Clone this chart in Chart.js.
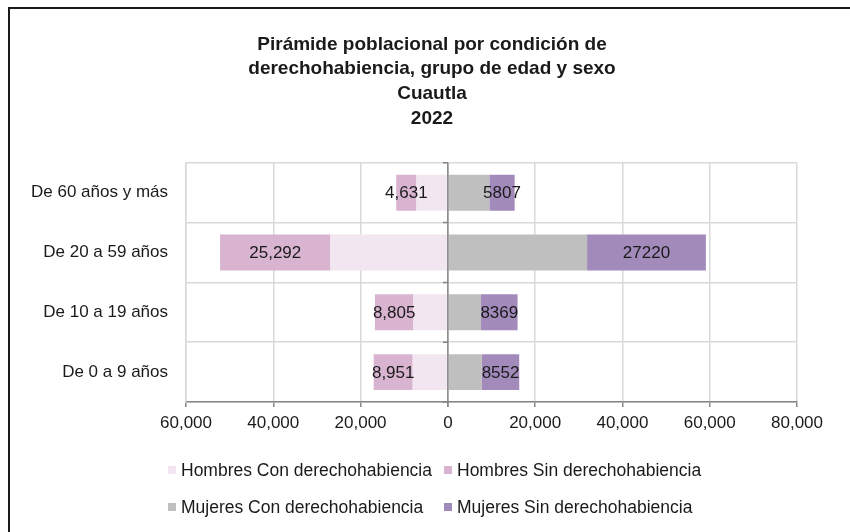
<!DOCTYPE html>
<html>
<head>
<meta charset="utf-8">
<script src="https://cdn.jsdelivr.net/npm/chart.js@4"></script>
<style>
  html, body { margin: 0; padding: 0; background: #fff; }
  body { width: 850px; height: 532px; position: relative; overflow: hidden; }
  #marco { position: absolute; left: 8px; top: 7px; width: 900px; height: 600px; border: 2px solid #1a1a1a; box-sizing: border-box; }
  #grafico { position: absolute; left: 0; top: 0; }
</style>
</head>
<body>
<div id="marco"></div>
<canvas id="grafico" width="850" height="532"></canvas>
<script>
// Datos
const categorias = ['De 60 años y más', 'De 20 a 59 años', 'De 10 a 19 años', 'De 0 a 9 años'];
const hombresCon = [7200, 26900, 7900, 8050];
const hombresSin = [4631, 25292, 8805, 8951];
const mujeresCon = [9500, 31900, 7600, 7800];
const mujeresSin = [5807, 27220, 8369, 8552];
const tituloLineas = ['Pirámide poblacional por condición de', 'derechohabiencia, grupo de edad y sexo', 'Cuautla', '2022'];
const ejeMin = -60000;
const ejeMax = 80000;
const ejePaso = 20000;

const FUENTE = "'Liberation Sans', Arial, sans-serif";
const GRIS_REJILLA = '#d9d9d9';
const GRIS_EJE = '#868686';

// El título se centra sobre todo el recuadro, no sólo sobre el área del gráfico
const tituloPlugin = {
    id: 'centrarTitulo',
    afterLayout(chart) {
        const t = chart.titleBlock;
        if (t) { t.left = 67; t.right = 797; }
    }
};

// Línea del cero y etiquetas de valor sobre los segmentos "Sin derechohabiencia"
const etiquetasPlugin = {
    id: 'etiquetas',
    afterDatasetsDraw(chart) {
        const ctx = chart.ctx;
        const xs = chart.scales.x;
        const x0 = xs.getPixelForValue(0);
        const area = chart.chartArea;

        ctx.save();
        ctx.strokeStyle = GRIS_EJE;
        ctx.lineWidth = 1.5;
        ctx.beginPath();
        ctx.moveTo(x0, area.top);
        ctx.lineTo(x0, area.bottom + 5);
        const n = categorias.length;
        for (let i = 0; i <= n; i++) {
            const y = area.top + i * (area.bottom - area.top) / n;
            ctx.moveTo(x0 - 5, y);
            ctx.lineTo(x0, y);
        }
        ctx.stroke();

        ctx.font = '17px ' + FUENTE;
        ctx.fillStyle = '#1a1a1a';
        ctx.textAlign = 'center';
        ctx.textBaseline = 'middle';
        [1, 3].forEach(di => {
            const meta = chart.getDatasetMeta(di);
            meta.data.forEach((bar, i) => {
                const valor = di === 1 ? hombresSin[i].toLocaleString('en-US') : String(mujeresSin[i]);
                ctx.fillText(valor, (bar.x + bar.base) / 2, bar.y + 1);
            });
        });
        ctx.restore();
    }
};

// Leyenda en dos filas
const leyendaPlugin = {
    id: 'leyendaDosFilas',
    afterDraw(chart) {
        const ctx = chart.ctx;
        const columnas = [168, 444];
        const filas = [470, 507];
        ctx.save();
        ctx.font = '17.5px ' + FUENTE;
        ctx.textBaseline = 'middle';
        ctx.textAlign = 'left';
        chart.data.datasets.forEach((ds, i) => {
            const x = columnas[i % 2];
            const y = filas[Math.floor(i / 2)];
            ctx.fillStyle = ds.backgroundColor;
            ctx.fillRect(x, y - 4, 8, 8);
            ctx.fillStyle = '#1a1a1a';
            ctx.fillText(ds.label, x + 13, y + 1);
        });
        ctx.restore();
    }
};

const ctx = document.getElementById('grafico').getContext('2d');
new Chart(ctx, {
    type: 'bar',
    data: {
        labels: categorias,
        datasets: [
            { label: 'Hombres Con derechohabiencia', data: hombresCon.map(v => -v), backgroundColor: '#f2e6f0' },
            { label: 'Hombres Sin derechohabiencia', data: hombresSin.map(v => -v), backgroundColor: '#d8b4d0' },
            { label: 'Mujeres Con derechohabiencia', data: mujeresCon, backgroundColor: '#bfbfbf' },
            { label: 'Mujeres Sin derechohabiencia', data: mujeresSin, backgroundColor: '#a28abb' }
        ]
    },
    options: {
        indexAxis: 'y',
        responsive: false,
        animation: false,
        layout: { padding: { top: 20, left: 0, right: 53, bottom: 100 } },
        datasets: { bar: { categoryPercentage: 1, barPercentage: 0.6 } },
        scales: {
            x: {
                stacked: true,
                min: ejeMin,
                max: ejeMax,
                afterFit: s => { s.height = 30; },
                ticks: {
                    stepSize: ejePaso,
                    color: '#1a1a1a',
                    font: { family: FUENTE, size: 17 },
                    padding: 6,
                    maxRotation: 0,
                    callback: v => Math.abs(v).toLocaleString('en-US')
                },
                grid: {
                    color: GRIS_REJILLA,
                    lineWidth: 1.5,
                    tickColor: GRIS_EJE,
                    tickLength: 5
                },
                border: { color: GRIS_EJE, width: 1.5 }
            },
            y: {
                stacked: true,
                afterFit: s => { s.width = 186; },
                ticks: {
                    color: '#1a1a1a',
                    font: { family: FUENTE, size: 17 },
                    padding: 18
                },
                grid: { color: GRIS_REJILLA, lineWidth: 1.5, drawTicks: false },
                border: { color: GRIS_REJILLA, width: 1.5 }
            }
        },
        plugins: {
            legend: { display: false },
            tooltip: { enabled: false },
            title: {
                display: true,
                text: tituloLineas,
                color: '#1a1a1a',
                font: { family: FUENTE, size: 19, weight: 'bold', lineHeight: 1.3 },
                padding: { top: 12, bottom: 32 }
            }
        }
    },
    plugins: [tituloPlugin, etiquetasPlugin, leyendaPlugin]
});
</script>
</body>
</html>
